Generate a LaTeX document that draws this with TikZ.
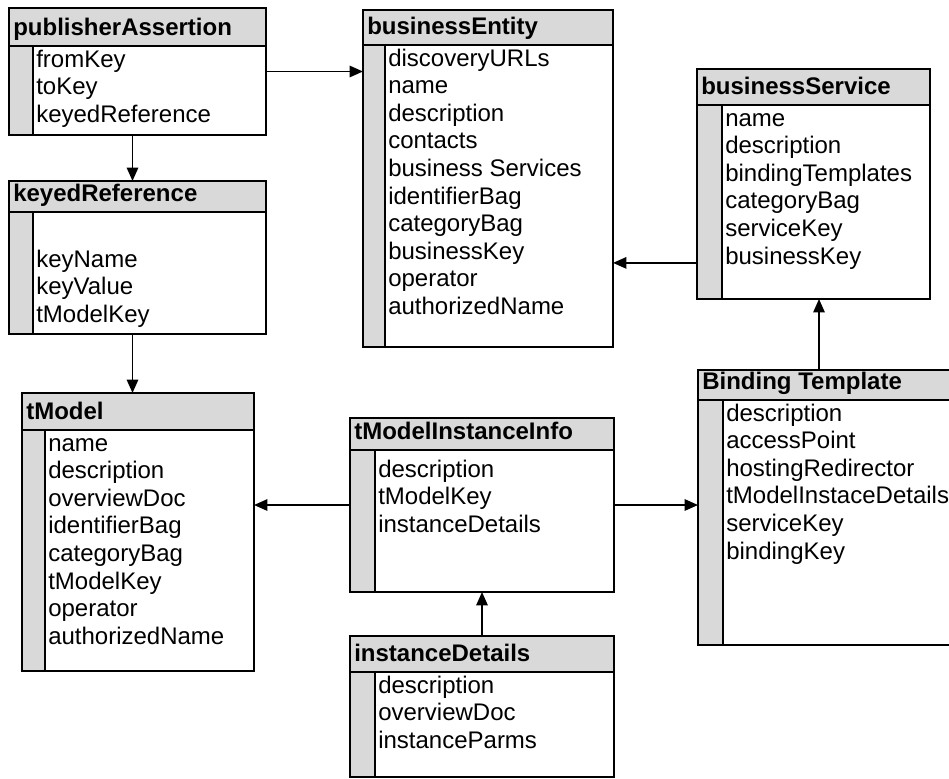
\documentclass[tikz,border=0pt]{standalone}
\usepackage{fontspec}
\setmainfont{Liberation Sans}
\usetikzlibrary{arrows.meta,calc,fit}

% Offset of the first field's baseline below the title band, and field pitch.
\def\firstrow{21}
\def\rowstep{27.6}

% One entity box: shaded title band, shaded left stripe, list of fields.
% #1 name, #2 left, #3 top, #4 right, #5 title bottom, #6 bottom,
% #7 stripe right, #8 title, #9 fields
\newcommand{\entitybox}[9]{%
  \fill[shade] (#2,#3) rectangle (#4,#5);
  \fill[shade] (#2,#5) rectangle (#7,#6);
  \draw[rule] (#2,#5) -- (#4,#5);
  \draw[rule] (#7,#5) -- (#7,#6);
  \node[boxframe, fit={(#2,#3) (#4,#6)}] (#1) {};
  \node[titletext] at (#2+4,#5-11) {#8};
  \foreach \f [count=\i from 0] in {#9}
    \node[fieldtext] at (#7+3,#5+\firstrow+\rowstep*\i) {\f};
}

\tikzset{
  shade/.style={fill=black!15},
  rule/.style={line width=1.2pt},
  boxframe/.style={draw, line width=1.5pt, inner sep=0pt, outer sep=0pt},
  titletext/.style={anchor=base west, inner sep=0pt, font=\fontsize{18}{20}\selectfont\bfseries},
  fieldtext/.style={anchor=base west, inner sep=0pt, font=\fontsize{18}{20}\selectfont},
  arr/.style={line width=1.3pt, -{Triangle[length=10pt,width=8.5pt]}},
}

\begin{document}
\begin{tikzpicture}[x=0.75pt,y=-0.75pt]
\useasboundingbox (0,0) rectangle (949,778);
\clip (0,0) rectangle (949,778);

\entitybox{pa}{9}{8}{266}{46}{135}{33}{publisherAssertion}{fromKey,toKey,keyedReference}
\entitybox{be}{363}{10}{613}{45}{347}{385}{businessEntity}{discoveryURLs,name,description,contacts,business Services,identifierBag,categoryBag,businessKey,operator,authorizedName}
\entitybox{bs}{697}{69}{930}{105}{299}{722}{businessService}{name,description,bindingTemplates,categoryBag,serviceKey,businessKey}
\def\firstrow{55}
\entitybox{kr}{9}{181}{266}{212}{334}{33}{keyedReference}{keyName,keyValue,tModelKey}
\def\firstrow{21}
\entitybox{tm}{22}{393}{254}{430}{671}{45}{tModel}{name,description,overviewDoc,identifierBag,categoryBag,tModelKey,operator,authorizedName}
\def\firstrow{27}
\entitybox{tmi}{350}{418}{614}{450}{592}{375}{tModelInstanceInfo}{description,tModelKey,instanceDetails}
\def\firstrow{21}
\entitybox{id}{350}{636}{614}{672}{777}{375}{instanceDetails}{description,overviewDoc,instanceParms}
\entitybox{bt}{698}{370}{965}{400}{645}{723}{Binding Template}{description,accessPoint,hostingRedirector,tModelInstaceDetails,serviceKey,bindingKey}

% connectors
\draw[arr] (pa.east) -- (pa.east -| be.west);
\coordinate (pakr) at ($(pa.south)+(-5,0)$);
\draw[arr] (pakr) -- (pakr |- kr.north);
\coordinate (krtm) at ($(kr.south)+(-5,0)$);
\draw[arr] (krtm) -- (krtm |- tm.north);
\coordinate (bsbe) at ($(bs.south west)!0.157!(bs.north west)$);
\draw[arr] (bsbe) -- (bsbe -| be.east);
\coordinate (btbs) at ($(bs.south)+(5.5,0)$);
\draw[arr] (btbs |- bt.north) -- (btbs);
\draw[arr] (tmi.west) -- (tmi.west -| tm.east);
\draw[arr] (tmi.east) -- (tmi.east -| bt.west);
\draw[arr] (id.north) -- (id.north |- tmi.south);
\end{tikzpicture}
\end{document}
